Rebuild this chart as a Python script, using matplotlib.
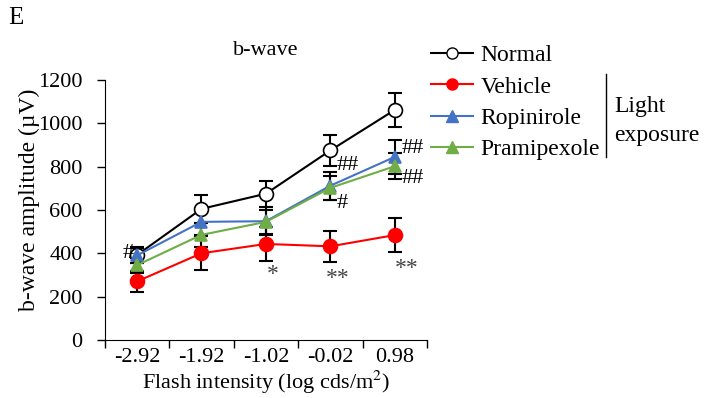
import matplotlib
matplotlib.use("Agg")
from matplotlib import pyplot as plt
from matplotlib.lines import Line2D

plt.rcParams['font.family'] = ['Liberation Serif', 'DejaVu Serif']
plt.rcParams['mathtext.fontset'] = 'stix'

intensity = ["-2.92", "-1.92", "-1.02", "-0.02", "0.98"]

normal = [392, 605, 675, 875, 1062]
normal_err = [35, 65, 60, 70, 80]
vehicle = [270, 400, 443, 432, 484]
vehicle_err = [50, 78, 80, 72, 78]
ropinirole = [390, 545, 548, 712, 845]
ropinirole_err = [35, 60, 65, 65, 80]
pramipexole = [345, 485, 545, 702, 802]
pramipexole_err = [35, 55, 55, 55, 60]

# significance marks: (category index, value, text)
stars = [(2, 300, "*"), (3, 282, "**"), (4, 328, "**")]
hashes = [(0, 400, "#", 'right'), (3, 805, "##", 'left'), (3, 630, "#", 'left'),
          (4, 885, "##", 'left'), (4, 745, "##", 'left')]

fig = plt.figure(figsize=(7.13, 3.98), dpi=100)
ax = fig.add_axes([0.147, 0.146, 0.452, 0.653])

x = list(range(len(intensity)))
series = [
    (normal, normal_err, 'black', 'o', 'white', 'Normal'),
    (vehicle, vehicle_err, '#FF0000', 'o', '#FF0000', 'Vehicle'),
    (ropinirole, ropinirole_err, '#4472C4', '^', '#4472C4', 'Ropinirole'),
    (pramipexole, pramipexole_err, '#70AD47', '^', '#70AD47', 'Pramipexole'),
]
handles = []
for vals, err, col, mk, fc, lab in series:
    ax.errorbar(x, vals, yerr=err, fmt='none', ecolor='black', elinewidth=1.5,
                capsize=5, capthick=1.5, zorder=2)
    ax.plot(x, vals, color=col, lw=1.5, marker=mk, markersize=10 if mk == 'o' else 9,
            markerfacecolor=fc, markeredgecolor='black' if fc == 'white' else col,
            markeredgewidth=1.2, zorder=3)
    handles.append(Line2D([], [], color=col, lw=1.5, marker=mk, markersize=8,
                          markerfacecolor=fc, markeredgecolor='black' if fc == 'white' else col))

for i, v, t in stars:
    dx = 0.19 if i == 4 else 0.11
    ax.text(i + dx, v, t, ha='center', va='center', fontsize=17, color='#444444')
for i, v, t, side in hashes:
    if side == 'right':
        ax.text(i - 0.05, v, t, ha='right', va='center', fontsize=16)
    else:
        ax.text(i + 0.1, v, t, ha='left', va='center', fontsize=16)

ax.set_xlim(-0.5, len(intensity) - 0.5)
ax.set_ylim(0, 1200)
ax.set_yticks(range(0, 1201, 200))
ax.set_xticks(x)
ax.set_xticklabels(intensity)
ax.set_xticks([i - 0.5 for i in range(len(intensity) + 1)], minor=True)
ax.tick_params(axis='x', which='major', length=0, labelsize=16, pad=6)
ax.tick_params(axis='x', which='minor', length=6, width=1)
ax.tick_params(axis='y', length=6, width=1, labelsize=16, direction='out', pad=10)
ax.spines['top'].set_visible(False)
ax.spines['right'].set_visible(False)
ax.set_ylabel("b-wave amplitude (\u00b5V)", fontsize=17, labelpad=4)
ax.yaxis.set_label_coords(-0.2, 0.54)
ax.set_xlabel("Flash intensity (log cds/m$^2$)", fontsize=16, labelpad=1)
ax.set_title("b-wave", fontsize=16, pad=18)

fig.legend(handles, [s[5] for s in series], loc='upper left', bbox_to_anchor=(0.604, 0.888),
           frameon=False, fontsize=17, handlelength=1.8, handletextpad=0.3,
           labelspacing=0.42, borderpad=0, borderaxespad=0)
fig.add_artist(Line2D([0.85, 0.85], [0.605, 0.815], color='black', lw=1))
fig.text(0.862, 0.695, "Light\nexposure", ha='left', va='center', fontsize=17, linespacing=1.5)
fig.text(0.012, 0.94, "E", fontsize=18)

fig.savefig("out.png", dpi=100)
